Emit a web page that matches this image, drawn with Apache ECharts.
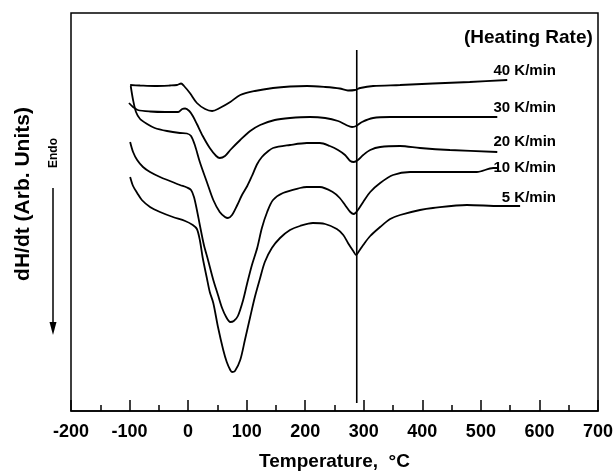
<!DOCTYPE html>
<html>
<head>
<meta charset="utf-8">
<script src="https://cdn.jsdelivr.net/npm/echarts@6/dist/echarts.min.js"></script>
<style>
html,body{margin:0;padding:0;background:#fff;}
#chart{width:616px;height:472px;}
</style>
</head>
<body>
<div id="chart"></div>
<script>
// Temperature (°C) vs dH/dt (arbitrary units, baseline-shifted per curve)
var xTicks = [-200, -100, 0, 100, 200, 300, 400, 500, 600, 700];
var rateLabels = ['40 K/min', '30 K/min', '20 K/min', '10 K/min', '5 K/min'];

var rate40 = [[-99,326],[-82,325.5],[-57,325],[-31,325.5],[-19,326],[-12,327.5],[-7,325],[3,318],[15,308],[29,302],[41,300],[54,303],[72,309],[89,316],[114,320],[145,323],[174,324.5],[203,325],[234,324],[259,322.5],[273,320.5],[285,321],[294,323],[316,325],[362,326],[418,327.5],[481,329],[545,331]];

var rate30 = [[-101,308],[-94,304],[-86,301],[-65,299.5],[-39,299],[-17,299],[-10,302],[-5,302.5],[2,300],[8,295],[15,287],[25,275],[37,263],[48,255],[54,253],[63,255],[72,261],[89,271],[106,280],[123,286],[148,291],[174,293],[208,294],[234,293],[256,290],[270,286],[280,284],[287,285],[297,289],[316,293],[345,294],[418,294],[481,294],[528,294]];

var rate20 = [[-98,325],[-94,311],[-89,299],[-82,292],[-70,287],[-57,283],[-36,280],[-14,278],[-2,277.5],[5,275],[12,265],[20,249],[32,229],[43,211],[54,199],[63,194],[68,193],[75,196],[84,206],[92,216],[101,225],[109,235],[118,247],[126,254],[135,259],[145,263],[174,266],[203,268],[225,268],[242,265],[256,261],[268,256],[277,250],[283,249],[290,251],[299,256],[311,261],[328,264],[362,265],[396,263],[447,261],[528,259]];

var rate10 = [[-99,269],[-94,259],[-87,251],[-77,244],[-65,239],[-48,234],[-31,230],[-14,226],[-2,223.5],[5,221],[10,214],[15,201],[20,186],[27,166],[34,151],[43,131],[51,116],[58,103],[65,94],[72,89],[78,90],[85,95],[94,111],[101,128],[109,146],[118,163],[126,183],[135,199],[145,211],[162,218],[191,223],[203,224],[225,224],[247,219],[259,213],[268,206],[277,199],[283,197],[290,201],[299,209],[311,219],[328,228],[350,236],[379,239],[418,239],[493,239],[521,243],[528,243]];

var rate5 = [[-99,234],[-94,225],[-87,218],[-79,211],[-65,204],[-48,199],[-26,194],[-5,190],[8,186],[15,182],[20,171],[25,153],[32,133],[37,119],[43,108],[51,84],[60,61],[66,49],[72,41],[75,39],[80,40],[89,51],[97,71],[106,94],[114,114],[123,133],[131,149],[143,163],[157,173],[174,181],[191,185],[213,188],[234,187],[254,182],[265,176],[273,168],[282,160],[287,156],[292,160],[299,166],[311,175],[328,184],[345,192],[362,196],[396,201],[418,203],[476,206],[533,205],[567,205]];

var markerLine = [[288,8],[288,361]];

var FONT = '"Liberation Sans", Arial, sans-serif';

function curve(name, data) {
  return {
    name: name, type: 'line', data: data, showSymbol: false, smooth: 0.3,
    lineStyle: {color: '#000', width: 1.8}, silent: true
  };
}

var series = [
  curve(rateLabels[0], rate40),
  curve(rateLabels[1], rate30),
  curve(rateLabels[2], rate20),
  curve(rateLabels[3], rate10),
  curve(rateLabels[4], rate5),
  {type: 'line', data: markerLine, showSymbol: false, lineStyle: {color: '#000', width: 1.6}, silent: true}
];

var chart = echarts.init(document.getElementById('chart'), null, {renderer: 'canvas'});

var labelY = [71, 108, 142, 168, 198];
var graphics = [
  {type: 'text', left: 464, top: 28, style: {text: '(Heating Rate)', font: 'bold 19px ' + FONT, fill: '#000'}},
  {type: 'text', x: 23, y: 194, rotation: Math.PI / 2, style: {text: 'dH/dt (Arb. Units)', font: 'bold 21px ' + FONT, fill: '#000', textAlign: 'center', textVerticalAlign: 'middle'}},
  {type: 'text', x: 54, y: 153, rotation: Math.PI / 2, style: {text: 'Endo', font: 'bold 12px ' + FONT, fill: '#000', textAlign: 'center', textVerticalAlign: 'middle'}},
  {type: 'line', shape: {x1: 53, y1: 188, x2: 53, y2: 326}, style: {stroke: '#000', lineWidth: 1.5}},
  {type: 'polygon', shape: {points: [[49.5, 322], [56.5, 322], [53, 335]]}, style: {fill: '#000'}}
];
rateLabels.forEach(function (t, i) {
  graphics.push({type: 'text', x: 556, y: labelY[i], style: {text: t, font: 'bold 15px ' + FONT, fill: '#000', textAlign: 'right', textVerticalAlign: 'middle'}});
});

chart.setOption({
  animation: false,
  backgroundColor: '#fff',
  grid: {left: 71, right: 18, top: 13, bottom: 61, containLabel: false, outerBoundsMode: 'none', show: true, borderColor: '#000', borderWidth: 1.5, backgroundColor: 'transparent'},
  xAxis: {
    type: 'value', min: xTicks[0], max: xTicks[xTicks.length - 1], interval: 100,
    name: 'Temperature,  °C', nameLocation: 'middle', nameGap: 41,
    nameTextStyle: {fontFamily: FONT, fontWeight: 'bold', fontSize: 19, color: '#000'},
    axisLine: {lineStyle: {color: '#000', width: 1.5}},
    axisTick: {show: true, inside: true, length: 11, lineStyle: {color: '#000', width: 1.5}},
    minorTick: {show: true, splitNumber: 2, length: 6, lineStyle: {color: '#000', width: 1.5}},
    axisLabel: {fontFamily: FONT, fontWeight: 'bold', fontSize: 18, color: '#000', margin: 12},
    splitLine: {show: false}
  },
  yAxis: {
    type: 'value', min: 0, max: 398, show: true,
    axisLine: {show: false}, axisTick: {show: false}, axisLabel: {show: false}, splitLine: {show: false}
  },
  series: series,
  graphic: graphics
});
</script>
</body>
</html>
